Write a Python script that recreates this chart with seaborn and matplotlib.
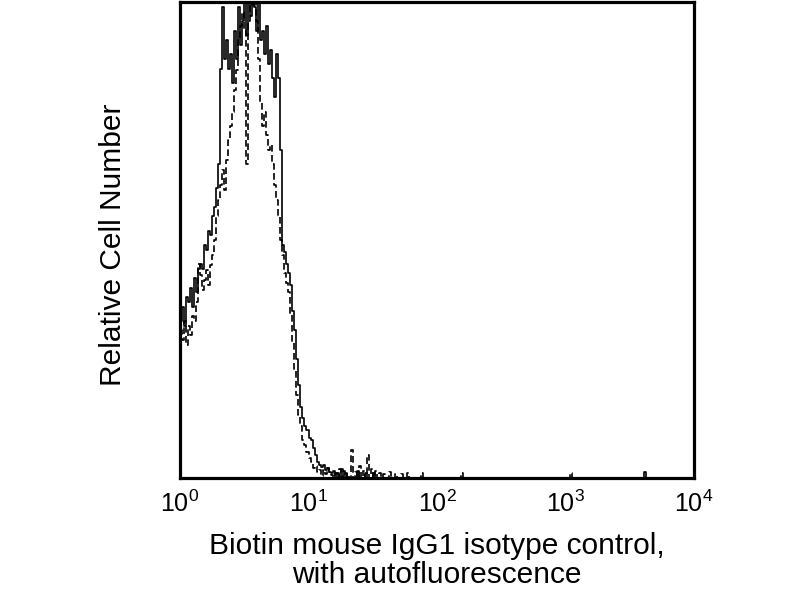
#!/usr/bin/env python3
"""
Flow cytometry histogram: biotin mouse IgG1 isotype control overlay.
"""

import numpy as np
import pandas as pd
import matplotlib

matplotlib.use("Agg")
import matplotlib.pyplot as plt
import seaborn as sns

# 256 log channels across 4 decades; counts in % of full scale
N_CHANNELS = 256

# channels 0..75 (main peak)
solid_core = [
    33, 36, 32, 38, 37, 40, 36, 42, 39, 44,
    45, 44, 49, 48, 52, 51, 55, 57, 61, 66,
    86, 99, 88, 92, 86, 89, 83, 94, 88, 99,
    91, 96, 101, 93, 102, 97, 101, 99, 94, 100,
    92, 94, 89, 95, 87, 90, 84, 80, 89, 84,
    69, 49, 47.5, 45, 43, 40.5, 35, 31, 25, 19.5,
    15, 12.6, 11, 10, 8.4, 8, 6.3, 4.8, 3.4, 2.7,
    2.3, 2.7, 1.7, 2.1, 1.3, 1.0,
]
dashed_core = [
    31, 29, 33, 28, 32, 30, 34, 33, 37, 45,
    42.6, 39.5, 41.6, 43.7, 40.5, 44.7, 46.8, 50, 55, 58.4,
    61.6, 64.7, 60.5, 66.8, 71, 74, 77, 81.5, 85.7, 92,
    95, 98, 94, 66, 96, 101, 99, 101, 96, 88,
    79, 74, 77, 72, 69, 70, 66, 61.5, 58.4, 55,
    50, 46.8, 43, 41, 39, 34.5, 28.5, 22.7, 17.4, 13.2,
    11, 8, 7, 5.5, 4.2, 3.4, 2.1, 2.5, 1.3, 1.7,
    0.4, 1.7, 0.8, 2.1, 1.3, 0.6,
]

# sparse events in the high tail
solid_tail_channels = [76, 78, 80, 82, 88, 92, 96, 231]
solid_tail_counts = [1.5, 1.0, 2.0, 1.0, 1.5, 1.0, 1.0, 1.2]
dashed_tail_channels = [77, 79, 81, 83, 85, 87, 89, 91, 93, 95,
                        97, 99, 101, 104, 107, 110, 113, 120, 140, 194]
dashed_tail_counts = [1.0, 2.0, 1.5, 0.8, 5.9, 1.2, 2.5, 1.5, 4.8, 2.0,
                      1.5, 1.0, 0.8, 1.2, 0.8, 0.8, 1.0, 1.0, 1.0, 1.0]

tick_values = [1, 10, 100, 1000, 10000]
tick_labels = [r"$\mathregular{10^{%d}}$" % p for p in range(5)]
xlabel = "Biotin mouse IgG1 isotype control,\nwith autofluorescence"
ylabel = "Relative Cell Number"


def full_counts(core, tail_channels, tail_counts):
    counts = np.zeros(N_CHANNELS)
    counts[: len(core)] = core
    counts[tail_channels] = tail_counts
    return counts


def step_frame(counts):
    # lower edge of each channel, plus the closing edge at 10^4
    edges = 10 ** np.linspace(0, 4, N_CHANNELS + 1)
    return pd.DataFrame({"fluor": edges, "count": np.append(counts, counts[-1])})


def main() -> None:
    sns.set_theme(style="white")
    plt.rcParams["font.family"] = ["Liberation Sans", "DejaVu Sans"]
    plt.rcParams["xtick.labelsize"] = 18

    solid = step_frame(full_counts(solid_core, solid_tail_channels, solid_tail_counts))
    dashed = step_frame(full_counts(dashed_core, dashed_tail_channels, dashed_tail_counts))

    fig = plt.figure(figsize=(8, 6), dpi=100)
    ax = fig.add_axes([0.225, 0.2033, 0.6425, 0.7933])

    sns.lineplot(
        data=solid, x="fluor", y="count", estimator=None, sort=False,
        drawstyle="steps-post", color="black", linewidth=1.2, ax=ax,
    )
    sns.lineplot(
        data=dashed, x="fluor", y="count", estimator=None, sort=False,
        drawstyle="steps-post", color="black", linewidth=1.2,
        linestyle=(0, (4, 2)), ax=ax,
    )

    ax.set_xscale("log")
    ax.set_xlim(1, 10000)
    ax.set_ylim(0, 100)
    ax.set_xticks(tick_values)
    ax.set_xticklabels(tick_labels, fontsize=18)
    ax.minorticks_off()
    ax.set_yticks([])
    ax.tick_params(axis="x", length=0, pad=9, colors="black")

    for spine in ax.spines.values():
        spine.set_visible(True)
        spine.set_color("black")
        spine.set_linewidth(2.3)

    ax.set_xlabel(xlabel, fontsize=21.5, color="black", linespacing=1.05)
    ax.xaxis.set_label_coords(0.5, -0.113)
    ax.set_ylabel(ylabel, fontsize=21.5, color="black")
    ax.yaxis.set_label_coords(-0.103, 0.489)

    fig.savefig("out.png", dpi=100)
    plt.close(fig)


if __name__ == "__main__":
    main()
